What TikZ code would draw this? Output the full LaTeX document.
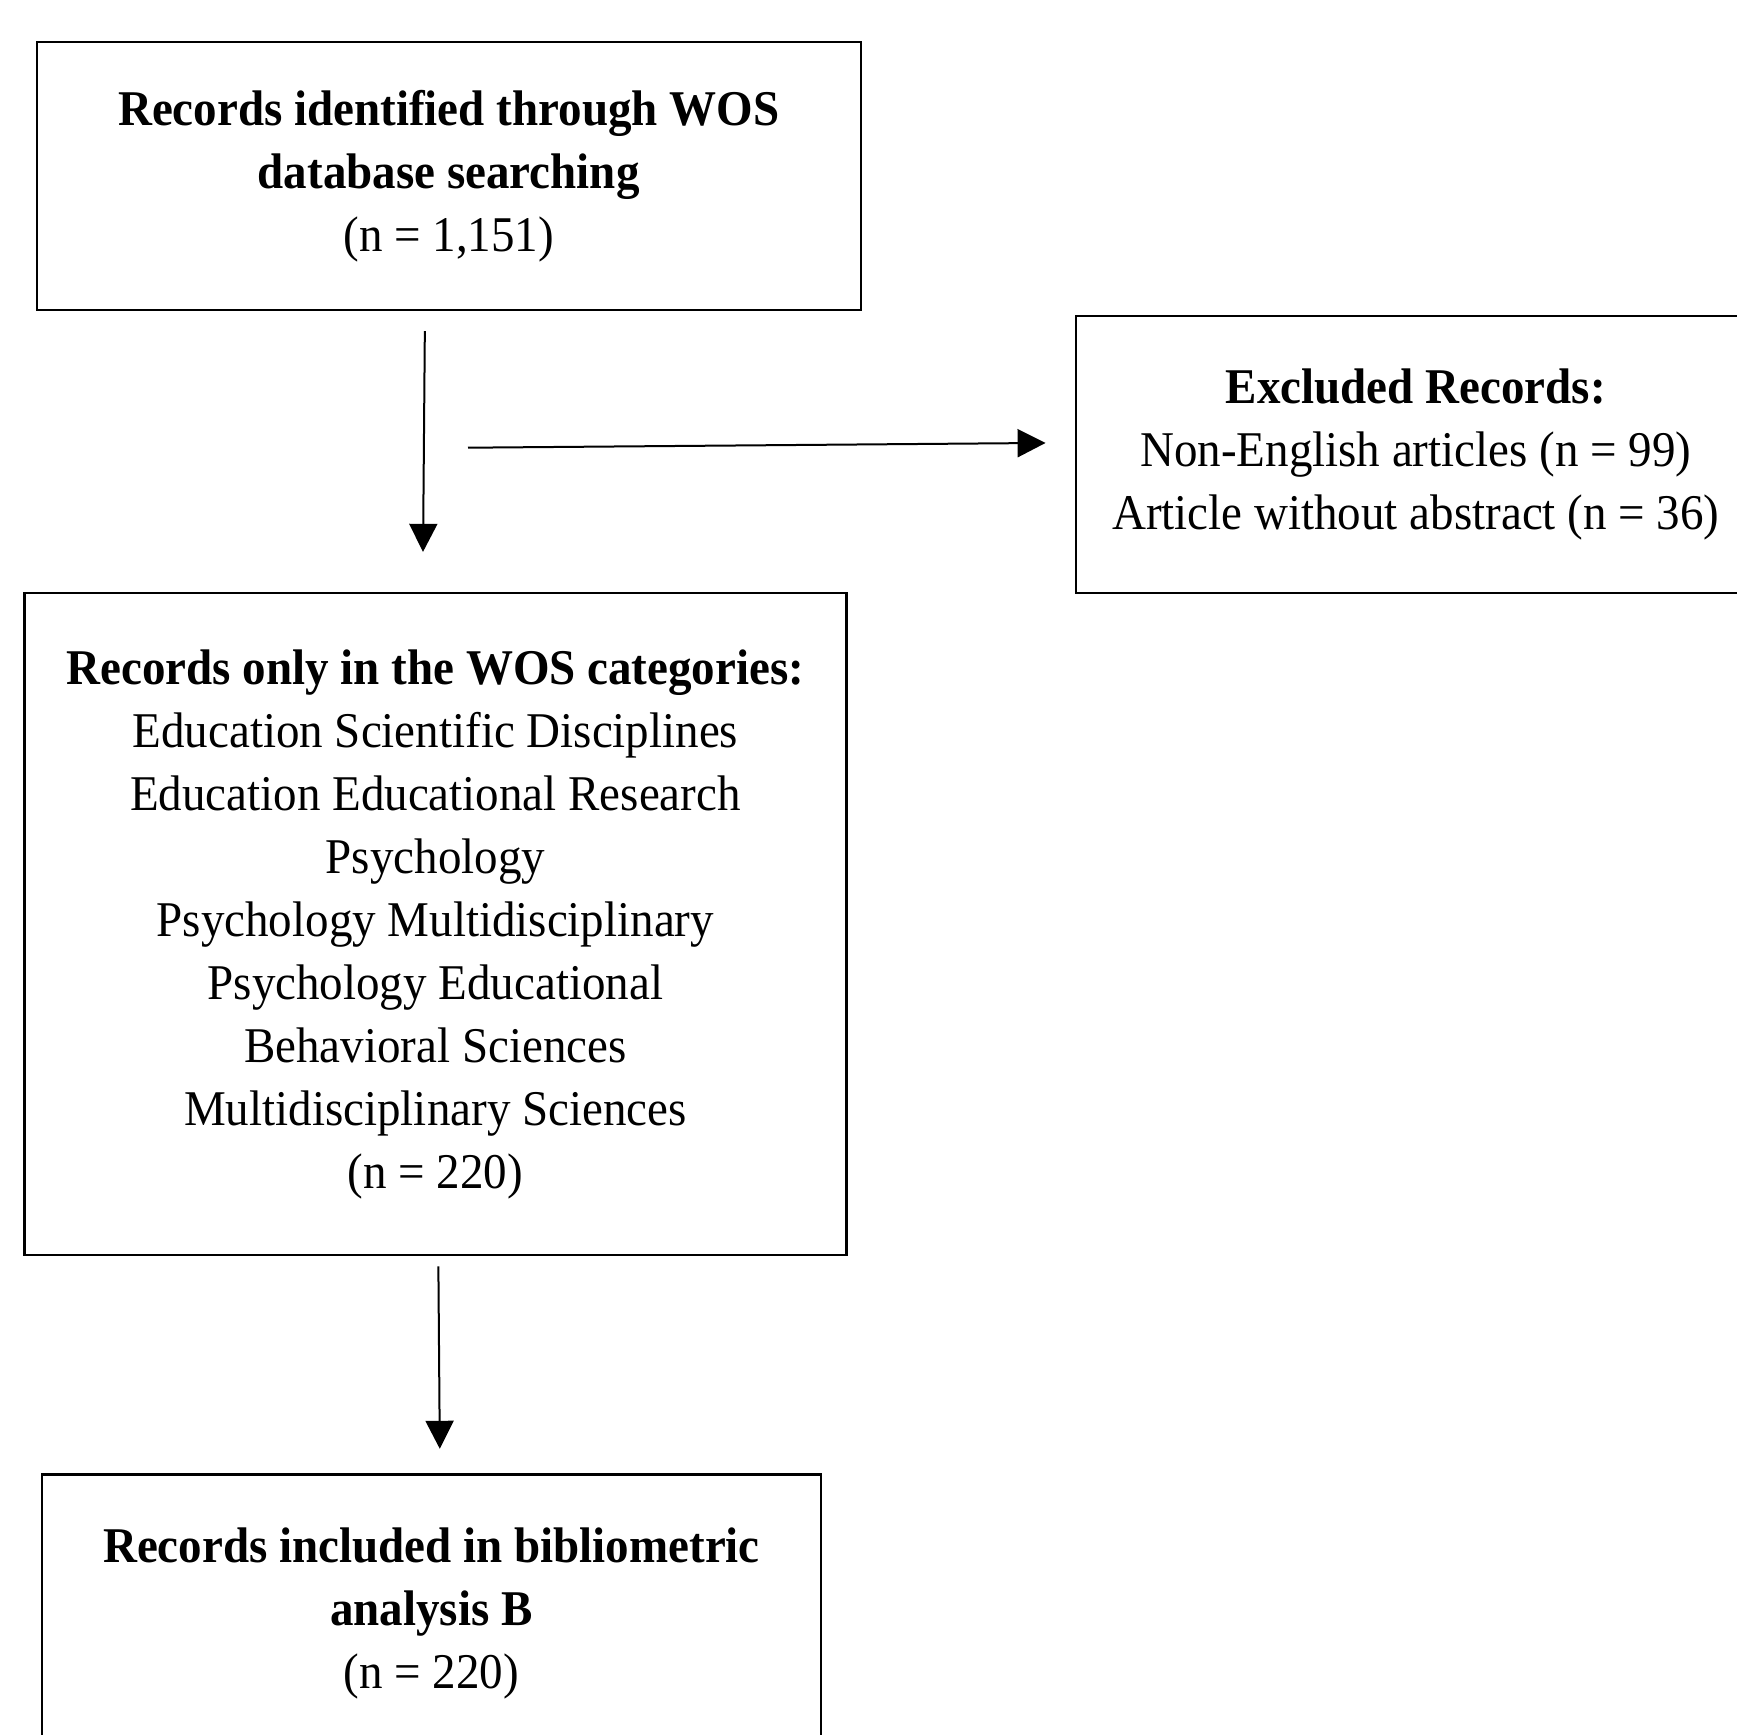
\documentclass[tikz,border=0pt]{standalone}
\usepackage{fontspec}
\setmainfont{Liberation Serif}[FakeStretch=0.94]
\usetikzlibrary{arrows.meta, positioning}

\begin{document}
\begin{tikzpicture}[x=0.5pt, y=-0.5pt,
    box/.style={draw, line width=1.2pt, align=center, inner sep=0pt,
      font=\fontsize{25pt}{31.5pt}\selectfont},
    arr/.style={-{Triangle[length=14pt, width=14pt]}, line width=1pt}]
      \clip (0,0) rectangle (1737,1735);
      \node[box, minimum width=412pt, minimum height=134pt] (ident) at (448.7,176.2)
        {\textbf{Records identified through WOS}\\ \textbf{database searching}\\ (n = 1,151)};
      \node[box, minimum width=340pt, minimum height=138.5pt] (excl) at (1415.8,454.2)
        {\textbf{Excluded Records:}\\ Non-English articles (n = 99)\\ Article without abstract (n = 36)};
      \node[box, minimum width=411pt, minimum height=331.25pt] (cats) at (435.4,924)
        {\textbf{Records only in the WOS categories:}\\ Education Scientific Disciplines\\
         Education Educational Research\\ Psychology\\ Psychology Multidisciplinary\\
         Psychology Educational\\ Behavioral Sciences\\ Multidisciplinary Sciences\\ (n = 220)};
      \node[box, minimum width=389.4pt, minimum height=138.5pt] (incl) at (431.5,1613)
        {\textbf{Records included in bibliometric}\\ \textbf{analysis B}\\ (n = 220)};
      \coordinate (split) at (468,447.7);
      \draw[arr, shorten <=9.9pt, shorten >=19.85pt]
        ([xshift=-11.85pt]ident.south) -- ([xshift=-6.35pt]cats.north);
      \draw[arr, shorten >=14.5pt] (split) -- ([yshift=5.75pt]excl.west);
      \draw[arr, shorten <=4.9pt, shorten >=12.25pt]
        ([xshift=1.45pt]cats.south) -- ([xshift=4.25pt]incl.north);
    \end{tikzpicture}
\end{document}
